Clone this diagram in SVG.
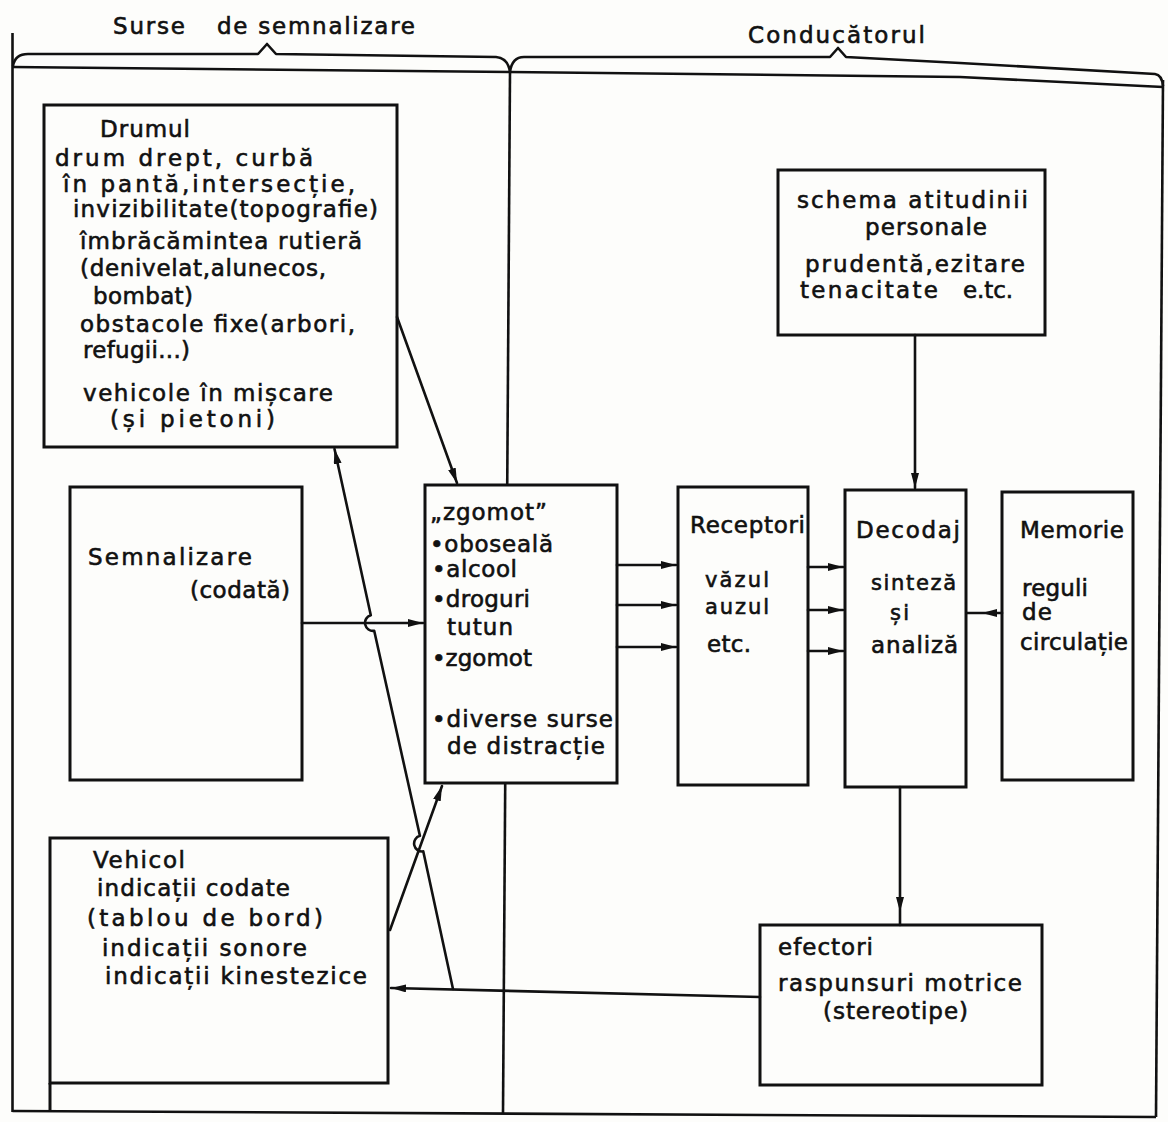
<svg xmlns="http://www.w3.org/2000/svg" width="1168" height="1122" viewBox="0 0 1168 1122">
  <defs>
    <style>
      .box { fill: #fdfdfb; stroke: #111; stroke-width: 3; stroke-linejoin: miter; }
      .edge { fill: none; stroke: #111; stroke-width: 3; }
      .ln { fill: none; stroke: #111; stroke-width: 2.6; stroke-linecap: round; stroke-linejoin: round; }
      .frame { fill: none; stroke: #111; stroke-width: 2.6; stroke-linejoin: round; }
      text { font-family: "DejaVu Sans", "Liberation Sans", sans-serif; font-size: 23px; fill: #111; stroke: #111; stroke-width: 0.6; }
      .sm { font-size: 21px; }
    </style>
    <marker id="ah" viewBox="0 0 15 8" refX="15" refY="4" markerWidth="15" markerHeight="8" markerUnits="userSpaceOnUse" orient="auto">
      <path d="M0,0 L15,4 L0,8 z" fill="#111"/>
    </marker>
  </defs>

  <rect x="0" y="0" width="1168" height="1122" fill="#fdfdfb"/>

  <!-- outer frame and section braces -->
  <g id="frame">
    <path class="frame" d="M12.5,33 L12.5,1112"/>
    <path class="frame" d="M12.5,1111 L1156,1117"/>
    <path class="frame" d="M1163,80 L1156,1117"/>
    <path class="frame" d="M12.5,67 L510,72 L960,77 L1163,87"/>
    <path class="frame" d="M510,72 L503,1113"/>
    <!-- brace over the signal sources -->
    <path class="frame" d="M13,66 Q15,54 28,54 L258,54 L267,44 L276,54 L496,57 Q508,58 510,72"/>
    <!-- brace over the driver -->
    <path class="frame" d="M510,72 Q512,57 524,57 L830,57 L838,48 L846,57 L960,63 L1155,74 Q1162,75 1163,86"/>
    <text x="113" y="34" textLength="72" lengthAdjust="spacing">Surse</text>
    <text x="217" y="34" textLength="198" lengthAdjust="spacing">de semnalizare</text>
    <text x="748" y="43" textLength="177" lengthAdjust="spacing">Conducătorul</text>
  </g>

  <g id="drumul">
    <rect class="box" x="44" y="105" width="353" height="342"/>
    <text x="100" y="137" textLength="90" lengthAdjust="spacing">Drumul</text>
    <text x="55" y="166" textLength="258" lengthAdjust="spacing">drum drept, curbă</text>
    <text x="63" y="192" textLength="292" lengthAdjust="spacing">în pantă,intersecție,</text>
    <text x="73" y="217" textLength="305" lengthAdjust="spacing">invizibilitate(topografie)</text>
    <text x="80" y="249" textLength="282" lengthAdjust="spacing">îmbrăcămintea rutieră</text>
    <text x="80" y="276" textLength="246" lengthAdjust="spacing">(denivelat,alunecos,</text>
    <text x="93" y="304" textLength="100" lengthAdjust="spacing">bombat)</text>
    <text x="80" y="332" textLength="275" lengthAdjust="spacing">obstacole fixe(arbori,</text>
    <text x="83" y="358" textLength="107" lengthAdjust="spacing">refugii...)</text>
    <text x="83" y="401" textLength="250" lengthAdjust="spacing">vehicole în mișcare</text>
    <text x="110" y="427" textLength="165" lengthAdjust="spacing">(și pietoni)</text>
  </g>

  <g id="semnalizare">
    <rect class="box" x="70" y="487" width="232" height="293"/>
    <text x="88" y="565" textLength="164" lengthAdjust="spacing">Semnalizare</text>
    <text x="190" y="598" textLength="100" lengthAdjust="spacing">(codată)</text>
  </g>

  <g id="zgomot">
    <rect class="box" x="425" y="485" width="192" height="298"/>
    <text x="430" y="520" textLength="117" lengthAdjust="spacing">„zgomot”</text>
    <text x="430" y="552" textLength="123" lengthAdjust="spacing">•oboseală</text>
    <text x="432" y="577" textLength="85" lengthAdjust="spacing">•alcool</text>
    <text x="432" y="607" textLength="98" lengthAdjust="spacing">•droguri</text>
    <text x="447" y="635" textLength="66" lengthAdjust="spacing">tutun</text>
    <text x="432" y="666" textLength="100" lengthAdjust="spacing">•zgomot</text>
    <text x="432" y="727" textLength="181" lengthAdjust="spacing">•diverse surse</text>
    <text x="447" y="754" textLength="158" lengthAdjust="spacing">de distracție</text>
  </g>

  <g id="receptori">
    <rect class="box" x="678" y="487" width="130" height="298"/>
    <text x="690" y="533" textLength="115" lengthAdjust="spacing">Receptori</text>
    <text class="sm" x="705" y="587" textLength="64" lengthAdjust="spacing">văzul</text>
    <text class="sm" x="705" y="614" textLength="64" lengthAdjust="spacing">auzul</text>
    <text x="707" y="652" textLength="44" lengthAdjust="spacing">etc.</text>
  </g>

  <g id="decodaj">
    <rect class="box" x="845" y="490" width="121" height="297"/>
    <text x="856" y="538" textLength="104" lengthAdjust="spacing">Decodaj</text>
    <text class="sm" x="871" y="590" textLength="85" lengthAdjust="spacing">sinteză</text>
    <text class="sm" x="890" y="620" textLength="19" lengthAdjust="spacing">și</text>
    <text x="871" y="653" textLength="87" lengthAdjust="spacing">analiză</text>
  </g>

  <g id="memorie">
    <rect class="box" x="1002" y="492" width="131" height="288"/>
    <text x="1020" y="538" textLength="104" lengthAdjust="spacing">Memorie</text>
    <text x="1022" y="596" textLength="66" lengthAdjust="spacing">reguli</text>
    <text x="1022" y="620" textLength="30" lengthAdjust="spacing">de</text>
    <text x="1020" y="650" textLength="108" lengthAdjust="spacing">circulație</text>
  </g>

  <g id="schema">
    <rect class="box" x="778" y="170" width="267" height="165"/>
    <text x="797" y="208" textLength="231" lengthAdjust="spacing">schema atitudinii</text>
    <text x="865" y="235" textLength="122" lengthAdjust="spacing">personale</text>
    <text x="805" y="272" textLength="220" lengthAdjust="spacing">prudentă,ezitare</text>
    <text x="800" y="298" textLength="138" lengthAdjust="spacing">tenacitate</text>
    <text x="963" y="298" textLength="50" lengthAdjust="spacing">e.tc.</text>
  </g>

  <g id="efectori">
    <rect class="box" x="760" y="925" width="282" height="160"/>
    <text x="778" y="955" textLength="95" lengthAdjust="spacing">efectori</text>
    <text x="778" y="991" textLength="244" lengthAdjust="spacing">raspunsuri motrice</text>
    <text x="823" y="1019" textLength="145" lengthAdjust="spacing">(stereotipe)</text>
  </g>

  <g id="vehicol">
    <rect class="box" x="50" y="838" width="338" height="245"/>
    <path class="edge" d="M50,1083 L50,1112"/>
    <text x="93" y="868" textLength="92" lengthAdjust="spacing">Vehicol</text>
    <text x="97" y="896" textLength="193" lengthAdjust="spacing">indicații codate</text>
    <text x="87" y="926" textLength="236" lengthAdjust="spacing">(tablou de bord)</text>
    <text x="102" y="956" textLength="205" lengthAdjust="spacing">indicații sonore</text>
    <text x="105" y="984" textLength="262" lengthAdjust="spacing">indicații kinestezice</text>
  </g>

  <g id="connectors">
    <!-- road to noise filter -->
    <path class="ln" d="M397,317 L457,483" marker-end="url(#ah)"/>
    <!-- coded signals to noise filter -->
    <path class="ln" d="M302,623 L423,623" marker-end="url(#ah)"/>
    <!-- feedback up to the road, hopping over two crossings -->
    <path class="ln" d="M453,989 L423.3,851.4 A8,8 0 0 1 419.9,835.8 L374.2,630.8 A8,8 0 0 1 370.8,615.2 L334.5,449" marker-end="url(#ah)"/>
    <!-- vehicle to noise filter -->
    <path class="ln" d="M390,930 L442,786" marker-end="url(#ah)"/>
    <!-- effectors back to the vehicle -->
    <path class="ln" d="M760,997 L391,988" marker-end="url(#ah)"/>
    <!-- noise filter to receptors -->
    <path class="ln" d="M617,565 L676,565" marker-end="url(#ah)"/>
    <path class="ln" d="M617,605 L676,605" marker-end="url(#ah)"/>
    <path class="ln" d="M617,647 L676,647" marker-end="url(#ah)"/>
    <!-- receptors to decoding -->
    <path class="ln" d="M808,567 L843,567" marker-end="url(#ah)"/>
    <path class="ln" d="M808,610 L843,610" marker-end="url(#ah)"/>
    <path class="ln" d="M808,651 L843,651" marker-end="url(#ah)"/>
    <!-- memory to decoding -->
    <path class="ln" d="M1002,613 L982,613 L967,613" marker-mid="url(#ah)"/>
    <!-- attitude scheme to decoding -->
    <path class="ln" d="M915,335 L915,488" marker-end="url(#ah)"/>
    <!-- decoding to effectors -->
    <path class="ln" d="M900,787 L900,912 L900,925" marker-mid="url(#ah)"/>
  </g>
</svg>
